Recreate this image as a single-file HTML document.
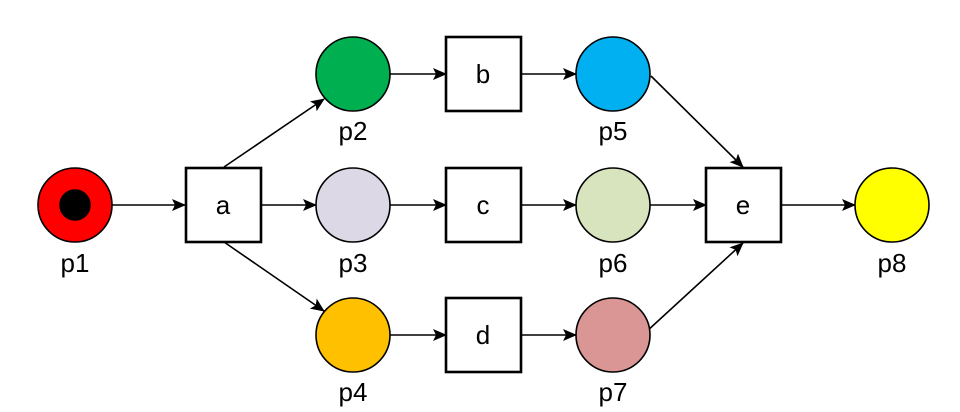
<!DOCTYPE html>
<html><head><meta charset="utf-8"><style>
html,body{margin:0;padding:0;background:#fff;}
svg{display:block;}
text{font-family:"Liberation Sans",sans-serif;font-size:26px;text-anchor:middle;fill:#000;}
</style></head><body>
<svg width="960" height="412" viewBox="0 0 960 412" xmlns="http://www.w3.org/2000/svg">
<defs>
<marker id="ar" markerWidth="14" markerHeight="12" refX="13" refY="6" orient="auto" markerUnits="userSpaceOnUse">
<path d="M0,0 L14,6 L0,12 L3,6 z" fill="#000"/>
</marker>
</defs>
<g stroke="#000" stroke-width="1.6" fill="none" marker-end="url(#ar)">
<line x1="112" y1="205" x2="185" y2="205"/>
<line x1="261" y1="205" x2="316" y2="205"/>
<line x1="224" y1="167" x2="324" y2="99"/>
<line x1="224" y1="242" x2="324" y2="311"/>
<line x1="390" y1="74" x2="446" y2="74"/>
<line x1="390" y1="205" x2="446" y2="205"/>
<line x1="390" y1="335" x2="446" y2="335"/>
<line x1="521" y1="74" x2="576" y2="74"/>
<line x1="521" y1="205" x2="576" y2="205"/>
<line x1="521" y1="335" x2="576" y2="335"/>
<line x1="651" y1="76" x2="743" y2="167"/>
<line x1="650" y1="205" x2="706" y2="205"/>
<line x1="646" y1="332" x2="743" y2="243"/>
<line x1="781" y1="205" x2="855" y2="205"/>
</g>
<g stroke="#000" stroke-width="1.6">
<circle cx="75" cy="205" r="37" fill="#ff0000"/>
<circle cx="75" cy="205" r="15" fill="#000"/>
<circle cx="353" cy="74" r="37" fill="#00b050"/>
<circle cx="353" cy="205" r="37" fill="#dcd8e6"/>
<circle cx="353" cy="335" r="37" fill="#ffc000"/>
<circle cx="613" cy="74" r="37" fill="#00b0f0"/>
<circle cx="613" cy="205" r="37" fill="#d7e4bd"/>
<circle cx="613" cy="335" r="37" fill="#d99694"/>
<circle cx="892" cy="205" r="37" fill="#ffff00"/>
</g>
<g stroke="#000" stroke-width="2.6" fill="#fff">
<rect x="186" y="168" width="75" height="74"/>
<rect x="446" y="37" width="75" height="74"/>
<rect x="446" y="168" width="75" height="74"/>
<rect x="446" y="298" width="75" height="74"/>
<rect x="706" y="168" width="75" height="74"/>
</g>
<text x="223" y="214">a</text>
<text x="483" y="83">b</text>
<text x="483" y="214">c</text>
<text x="483" y="344">d</text>
<text x="743" y="214">e</text>
<text x="75" y="272">p1</text>
<text x="353" y="140">p2</text>
<text x="353" y="272">p3</text>
<text x="353" y="401">p4</text>
<text x="613" y="140">p5</text>
<text x="613" y="272">p6</text>
<text x="613" y="401">p7</text>
<text x="892" y="272">p8</text>
</svg>
</body></html>
